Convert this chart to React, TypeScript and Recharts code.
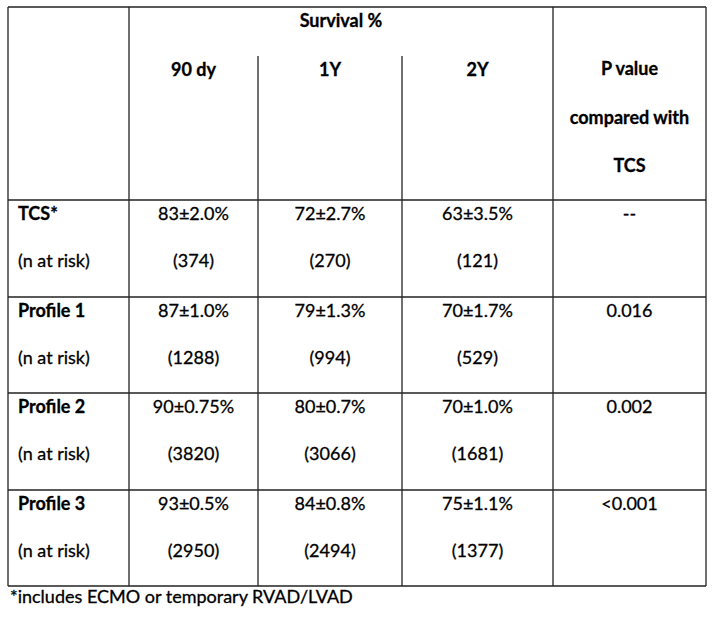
import { ScatterChart, Scatter, XAxis, YAxis, ReferenceLine } from "recharts";

const groups = ["TCS*", "Profile 1", "Profile 2", "Profile 3"];
const survival90 = ["83±2.0%", "87±1.0%", "90±0.75%", "93±0.5%"];
const risk90 = ["(374)", "(1288)", "(3820)", "(2950)"];
const survival1y = ["72±2.7%", "79±1.3%", "80±0.7%", "84±0.8%"];
const risk1y = ["(270)", "(994)", "(3066)", "(2494)"];
const survival2y = ["63±3.5%", "70±1.7%", "70±1.0%", "75±1.1%"];
const risk2y = ["(121)", "(529)", "(1681)", "(1377)"];
const pValues = ["--", "0.016", "0.002", "<0.001"];
const periods = ["90 dy", "1Y", "2Y"];
const pHeader = ["P value", "compared with", "TCS"];
const spanTitle = "Survival %";
const riskLabel = "(n at risk)";
const footnote = "*includes ECMO or temporary RVAD/LVAD";

// layout (pixel units of the axes)
const W = 714;
const H = 617;
const COLS = [8, 129, 258, 402, 553, 706];
const ROWS = [7, 200, 297, 393, 490, 586];
const SUB_TOP = 56;
const LINE = "#222";
const FONT = "Lato, 'Open Sans', sans-serif";
const SIZE = 18;

type Cell = { x: number; y: number; text: string; bold?: boolean; anchor?: string };

const mid = (i: number) => (COLS[i] + COLS[i + 1]) / 2;

const cells: Cell[] = [];
cells.push({ x: (COLS[1] + COLS[4]) / 2, y: 27, text: spanTitle, bold: true });
periods.forEach((p, i) => cells.push({ x: mid(i + 1), y: 76, text: p, bold: true }));
pHeader.forEach((p, i) => cells.push({ x: mid(4), y: 75 + i * 48.5, text: p, bold: true }));
groups.forEach((g, r) => {
  const top = ROWS[r + 1];
  const y1 = top + 19.5;
  const y2 = top + 67;
  cells.push({ x: 18, y: y1, text: g, bold: true, anchor: "start" });
  cells.push({ x: 18, y: y2, text: riskLabel, anchor: "start" });
  cells.push({ x: mid(1), y: y1, text: survival90[r] });
  cells.push({ x: mid(1), y: y2, text: risk90[r] });
  cells.push({ x: mid(2), y: y1, text: survival1y[r] });
  cells.push({ x: mid(2), y: y2, text: risk1y[r] });
  cells.push({ x: mid(3), y: y1, text: survival2y[r] });
  cells.push({ x: mid(3), y: y2, text: risk2y[r] });
  cells.push({ x: mid(4), y: y1, text: pValues[r] });
});
cells.push({ x: 10, y: 603, text: footnote, anchor: "start" });

const segments: { x: number; y: number }[][] = [];
ROWS.forEach((y) => segments.push([{ x: COLS[0], y }, { x: COLS[5], y }]));
[0, 1, 4, 5].forEach((c) => segments.push([{ x: COLS[c], y: ROWS[0] }, { x: COLS[c], y: ROWS[5] }]));
[2, 3].forEach((c) => segments.push([{ x: COLS[c], y: SUB_TOP }, { x: COLS[c], y: ROWS[5] }]));

const CellText = (props: any) => {
  const d = props.payload as Cell;
  return (
    <text
      x={props.cx}
      y={props.cy}
      textAnchor={d.anchor ?? "middle"}
      fontFamily={FONT}
      fontSize={SIZE}
      fontWeight={d.bold ? 700 : 400}
      fill="#000"
      stroke="#000"
      strokeWidth={0.3}
    >
      {d.text}
    </text>
  );
};

export default function App() {
  return (
    <div style={{ position: "absolute", left: 0, top: 0, width: W, height: H, background: "#fff" }}>
      <ScatterChart width={W} height={H} margin={{ top: 0, right: 0, bottom: 0, left: 0 }}>
        <XAxis type="number" dataKey="x" domain={[0, W]} hide />
        <YAxis type="number" dataKey="y" domain={[0, H]} reversed hide />
        {segments.map((s, i) => (
          <ReferenceLine key={i} segment={s} stroke={LINE} strokeWidth={1.3} ifOverflow="visible" />
        ))}
        <Scatter data={cells} shape={CellText} isAnimationActive={false} />
      </ScatterChart>
    </div>
  );
}
